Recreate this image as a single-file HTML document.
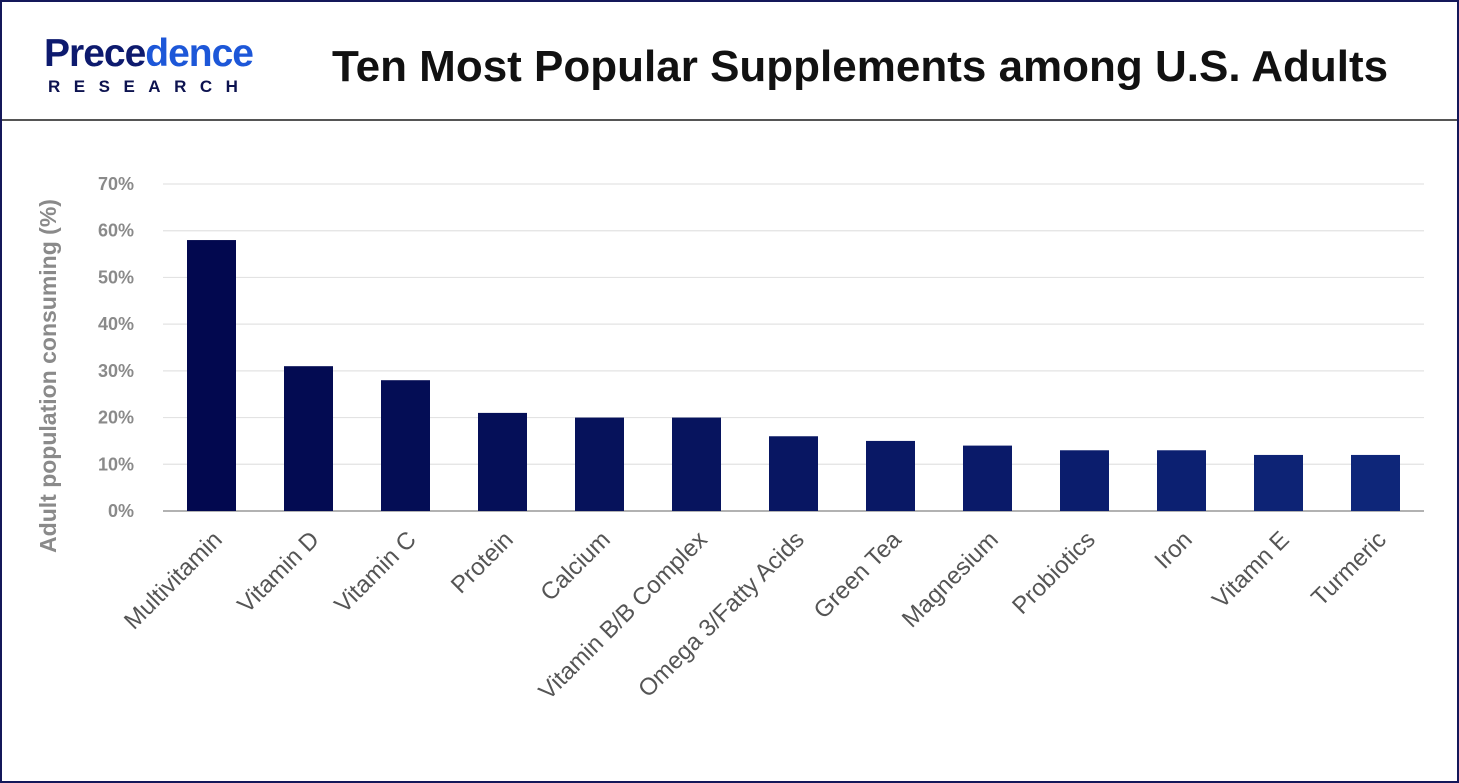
<!DOCTYPE html>
<html><head><meta charset="utf-8"><style>
html,body{margin:0;padding:0;background:#fff}
#root{position:relative;width:1459px;height:783px;box-sizing:border-box;border:2px solid #14185a;overflow:hidden;font-family:"Liberation Sans",sans-serif}
#header{position:absolute;left:0;top:0;width:1455px;height:117px;border-bottom:2px solid #555}
#title{position:absolute;left:330px;top:40px;font-size:44px;font-weight:bold;color:#111;white-space:nowrap}
#logo1{position:absolute;left:42px;top:30px;font-size:39px;font-weight:bold;color:#0d1a6e;letter-spacing:-1px}
#logo1 span{color:#1d57d8}
#logo2{position:absolute;left:46px;top:75px;font-size:17px;font-weight:bold;color:#0d1350;letter-spacing:13.5px}
</style></head><body>
<div id="root">
<div id="header">
<div id="logo1">Prece<span>dence</span></div>
<div id="logo2">RESEARCH</div>
<div id="title">Ten Most Popular Supplements among U.S. Adults</div>
</div>
<svg id="chart" width="1455" height="779" style="position:absolute;left:0;top:0"></svg>
</div>
<script>
const categories=["Multivitamin","Vitamin D","Vitamin C","Protein","Calcium","Vitamin B/B Complex","Omega 3/Fatty Acids","Green Tea","Magnesium","Probiotics","Iron","Vitamn E","Turmeric"];
const values=[58,31,28,21,20,20,16,15,14,13,13,12,12];
const ticks=[0,10,20,30,40,50,60,70];
const tickLabels=["0%","10%","20%","30%","40%","50%","60%","70%"];
const colors=["#02084f","#030b52","#040d55","#050f58","#06125b","#07145e","#081662","#091865","#0a1a69","#0b1d6d","#0c2071","#0d2375","#0e2679"];
const svg=document.getElementById('chart');
const NS='http://www.w3.org/2000/svg';
const X0=161,X1=1422,Y0=509,Y70=182;
const band=(X1-X0)/categories.length;
const y=v=>Y0-(Y0-Y70)*v/70;
const xc=i=>X0+band*(i+0.5);
function mk(t,a){const e=document.createElementNS(NS,t);for(const k in a)e.setAttribute(k,a[k]);svg.appendChild(e);return e;}
ticks.forEach((t,i)=>{
 const g=mk('line',{x1:X0,x2:X1,y1:y(t),y2:y(t),stroke:i==0?'#999':'#e3e3e3','stroke-width':i==0?1.5:1.2});
 
 
 const l=mk('text',{x:132,y:y(t)+6,'text-anchor':'end','font-size':18,'font-weight':'bold',fill:'#8a8a8a','font-family':'Liberation Sans, sans-serif'});
 l.textContent=tickLabels[i];
 
 
});
values.forEach((v,i)=>{
 const b=mk('rect',{x:xc(i)-24.5,y:y(v),width:49,height:Y0-y(v),fill:colors[i]});
 
 
 const ax=xc(i)+12, ay=Y0+30;
 const t=mk('text',{x:ax,y:ay,'text-anchor':'end','font-size':24,fill:'#555','font-family':'Liberation Sans, sans-serif',transform:`rotate(-45 ${ax} ${ay})`});
 t.textContent=categories[i];
 
 
});
const yt=mk('text',{x:54,y:374,'text-anchor':'middle','font-size':23,'font-weight':'bold',fill:'#8a8a8a','font-family':'Liberation Sans, sans-serif',transform:'rotate(-90 54 374)'});
yt.textContent='Adult population consuming (%)';


</script>
</body></html>
